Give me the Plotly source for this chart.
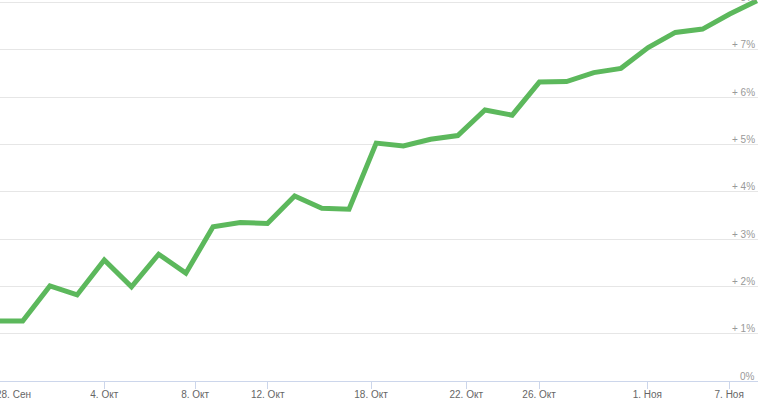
import plotly.graph_objects as go

# Trading-day index of each point (ordinal x axis)
point_index = list(range(29))
# Cumulative return, %
returns_pct = [1.27, 1.27, 2.01, 1.82, 2.56, 1.99, 2.68, 2.28, 3.26, 3.35,
               3.33, 3.91, 3.65, 3.63, 5.03, 4.97, 5.11, 5.19, 5.73, 5.62,
               6.32, 6.33, 6.52, 6.61, 7.05, 7.37, 7.44, 7.76, 8.04]

# X tick labels and their positions on the ordinal axis
x_tick_labels = ["28. Сен", "4. Окт", "8. Окт", "12. Окт", "18. Окт",
                 "22. Окт", "26. Окт", "1. Ноя", "7. Ноя"]
x_tick_pos = [0.66, 4.0, 7.34, 10.01, 13.81, 17.31, 19.99, 23.97, 26.98]

# Y ticks
y_tick_vals = [0, 1, 2, 3, 4, 5, 6, 7, 8]
y_tick_labels = ["0%", "+ 1%", "+ 2%", "+ 3%", "+ 4%", "+ 5%", "+ 6%", "+ 7%", "+ 8%"]

FONT = "Liberation Sans, Arial, sans-serif"

fig = go.Figure()
fig.add_trace(go.Scatter(
    x=point_index, y=returns_pct, mode="lines",
    line=dict(color="#5cb85c", width=5, shape="linear"),
    hoverinfo="skip", cliponaxis=False,
))

# First x label sits where the chart edge has pushed it (no tick mark)
fig.add_annotation(
    x=x_tick_pos[0], y=0, xref="x", yref="y", text=x_tick_labels[0],
    showarrow=False, yanchor="top", yshift=-6,
    font=dict(family=FONT, size=10, color="#666666"),
)

# Y labels: right-aligned, just above each gridline
for v, t in zip(y_tick_vals, y_tick_labels):
    fig.add_annotation(
        x=1, xref="paper", y=v, yref="y", text=t, showarrow=False,
        xanchor="right", yanchor="middle", yshift=5, xshift=-1,
        font=dict(family=FONT, size=10, color="#999999"),
    )

fig.update_layout(
    width=758, height=403,
    margin=dict(l=0, r=0, t=0, b=22, pad=0, autoexpand=False),
    paper_bgcolor="white", plot_bgcolor="white",
    showlegend=False,
    font=dict(family=FONT, size=10, color="#666666"),
    xaxis=dict(
        range=[0.165, 28.04], automargin=False,
        tickmode="array", tickvals=x_tick_pos[1:], ticktext=x_tick_labels[1:],
        ticks="outside", ticklen=7, tickcolor="#ccd6eb", tickwidth=1,
        ticklabelstandoff=-3,
        showline=True, linecolor="#ccd6eb", linewidth=1,
        showgrid=False, zeroline=False,
        tickfont=dict(size=10, color="#666666"),
    ),
    yaxis=dict(
        range=[0, 8.055], automargin=False,
        tickmode="array", tickvals=y_tick_vals, showticklabels=False,
        showgrid=True, gridcolor="#e6e6e6", gridwidth=1,
        zeroline=False, showline=False, ticks="",
    ),
)

fig.write_html(
    "out.html",
    config={"displayModeBar": False},
    post_script="document.body.style.margin='0';document.body.style.padding='0';",
)
